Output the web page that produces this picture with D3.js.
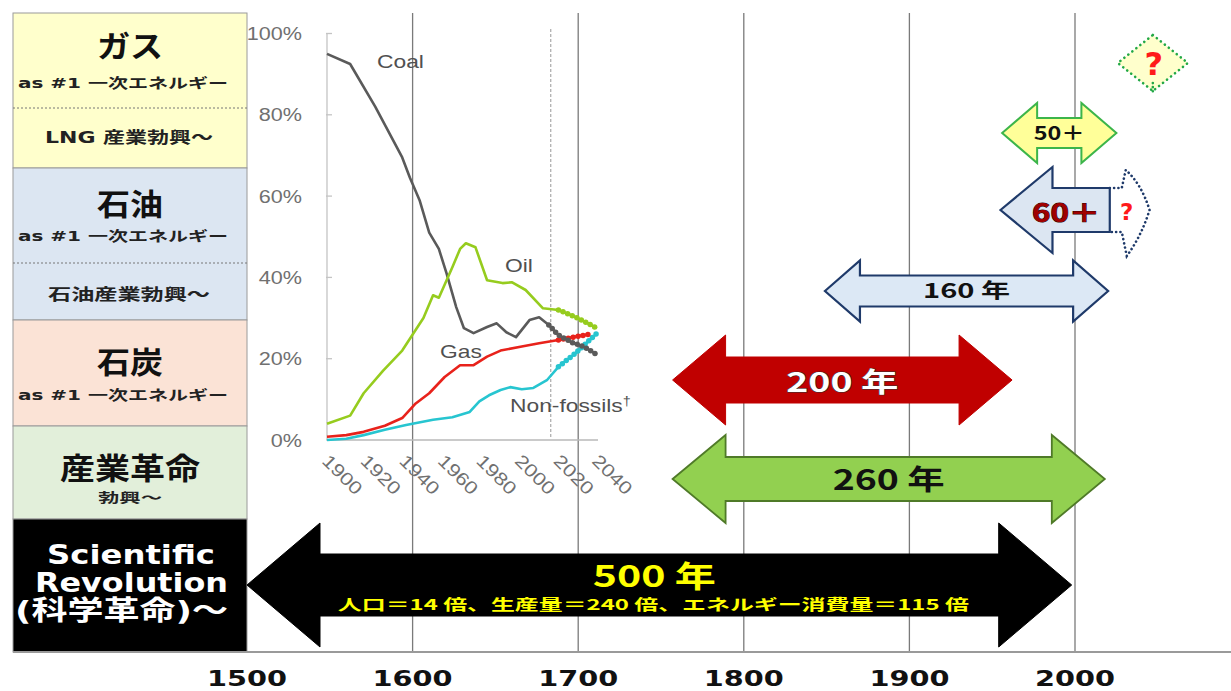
<!DOCTYPE html>
<html>
<head>
<meta charset="utf-8">
<script src="https://cdn.jsdelivr.net/npm/d3@7"></script>
<style>
  body { margin: 0; background: #fff; }
  svg { display: block; }
</style>
</head>
<body>
<svg id="chart" width="1231" height="691"></svg>
<script>
// =========================
// DADES
// =========================

const timelineYears = [1500, 1600, 1700, 1800, 1900, 2000];

// left panel: energy eras
const eraTitles = ["ガス", "石油", "石炭", "産業革命"];
const eraSubs = ["as #1 一次エネルギー", "as #1 一次エネルギー", "as #1 一次エネルギー", "勃興～"];
const eraNotes = ["LNG 産業勃興～", "石油産業勃興～"];
const sciLines = ["Scientific", "Revolution", "(科学革命)～"];

// spans on the timeline (years)
const spanLabels = ["500 年", "260 年", "200 年", "160 年", "50＋", "60＋"];
const spanStart = [1500, 1757, 1757, 1849, 1956, 1955];
const spanEnd = [1998, 2018, 1962, 2020, 2025, 2021];
const spanSub = "人口＝14 倍、生産量＝240 倍、エネルギー消費量＝115 倍";
const unknownYear = 2047;      // "?" diamond
const unknownExtEnd = 2045;    // dotted continuation of 60+

// inset: share of primary energy (%)
const insetTicksY = [0, 20, 40, 60, 80, 100];
const insetTicksX = [1900, 1920, 1940, 1960, 1980, 2000, 2020, 2040];
const outlookStart = 2016;

const coalShare = [[1900,95],[1912,92.5],[1925,82],[1939,69.5],[1943,64.5],[1948,59],[1953,51],[1958,47],
  [1962,41],[1967,32.7],[1971,27.5],[1976,26.3],[1983,27.8],[1988,28.7],[1993,26.5],[1998,25.3],
  [2005,29.5],[2010,30.2],[2015,28.3],[2020,25.8],[2027,24],[2033,23],[2040,21]];
const oilShare = [[1900,4],[1912,6],[1919,11.5],[1929,17],[1939,22],[1950,30],[1955,35.6],[1958,35],
  [1965,42.5],[1969,47],[1972,48.4],[1977,47.4],[1983,39.3],[1991,38.6],[1996,38.8],[2003,36.9],
  [2012,32.4],[2020,32],[2030,30],[2040,27.5]];
const gasShare = [[1900,0.8],[1910,1.2],[1919,2],[1930,3.5],[1939,5.4],[1946,9],[1953,11.5],[1961,15.5],
  [1969,18.4],[1976,18.4],[1983,20.5],[1990,22],[2001,23],[2010,23.8],[2020,24.6],[2030,25.5],[2036,26]];
const nonFossilShare = [[1900,0],[1910,0.3],[1919,1.2],[1930,2.5],[1941,3.7],[1955,5],[1965,5.6],
  [1974,6.9],[1979,9.5],[1984,11],[1990,12.3],[1995,13],[2001,12.5],[2007,12.8],[2014,14.7],
  [2020,18],[2029,21.4],[2040,26.3]];

const seriesNames = ["Coal", "Oil", "Gas", "Non-fossils†"];
const seriesData = [coalShare, oilShare, gasShare, nonFossilShare];


// =========================
// ESCALES
// =========================

const svg = d3.select("#chart");
const JP = "'Noto Sans CJK JP', sans-serif";
const VERD = "'DejaVu Sans', 'Noto Sans CJK JP', sans-serif";
const ARIAL = "'Liberation Sans', Arial, sans-serif";

const x = d3.scaleLinear().domain([1500, 2000]).range([247, 1075]);
const gridTop = 13, gridBottom = 652;

const ix = d3.scaleLinear().domain([1900, 2040]).range([327, 597]);
const iy = d3.scaleLinear().domain([0, 100]).range([440, 33.5]);

function stretch(sel, k) {
  sel.each(function () {
    const L = this.getComputedTextLength();
    d3.select(this).attr("textLength", L * k).attr("lengthAdjust", "spacingAndGlyphs");
  });
}
function fit(sel, w) {
  sel.attr("textLength", w).attr("lengthAdjust", "spacingAndGlyphs");
}


// =========================
// PANELL ESQUERRE
// =========================

function drawPanel() {
  const g = svg.append("g");
  const px0 = 13, px1 = 247;
  const rows = [
    { y0: 13, y1: 168, fill: "#ffffcc" },
    { y0: 168, y1: 320, fill: "#dce6f2" },
    { y0: 320, y1: 426, fill: "#fbe3d6" },
    { y0: 426, y1: 519, fill: "#e2efda" },
    { y0: 519, y1: 652, fill: "#000000" }
  ];
  g.selectAll("rect.row").data(rows).enter().append("rect")
    .attr("x", px0).attr("y", d => d.y0)
    .attr("width", px1 - px0).attr("height", d => d.y1 - d.y0)
    .attr("fill", d => d.fill)
    .attr("stroke", "#9a9a9a").attr("stroke-width", 1);

  // dotted separators
  g.selectAll("line.sep").data([108, 263]).enter().append("line")
    .attr("x1", px0).attr("x2", px1).attr("y1", d => d).attr("y2", d => d)
    .attr("stroke", "#777").attr("stroke-width", 1).attr("stroke-dasharray", "2,2");

  const titleY = [57, 215, 373, 479];
  const titleW = [66, 66, 66, 140];
  const subY = [88, 241, 400, 502];
  const subW = [210, 210, 210, 64];
  const subSize = [14, 14, 14, 13];

  eraTitles.forEach((t, i) => {
    g.append("text").attr("x", 130).attr("y", titleY[i]).attr("text-anchor", "middle")
      .style("font-family", JP).style("font-weight", 700).style("font-size", "30px")
      .attr("fill", "#111").text(t).call(fit, titleW[i]);
    g.append("text").attr("x", i < 3 ? 123 : 130).attr("y", subY[i]).attr("text-anchor", "middle")
      .style("font-family", VERD).style("font-weight", 700).style("font-size", subSize[i] + "px")
      .attr("fill", "#222").text(eraSubs[i]).call(fit, subW[i]);
  });

  const noteY = [143, 300];
  const noteW = [168, 162];
  eraNotes.forEach((t, i) => {
    g.append("text").attr("x", 129).attr("y", noteY[i]).attr("text-anchor", "middle")
      .style("font-family", VERD).style("font-weight", 700).style("font-size", "16px")
      .attr("fill", "#222").text(t).call(fit, noteW[i]);
  });

  const sciY = [564, 592, 620];
  const sciX = [131, 131.5, 121.5];
  const sciW = [168, 193, 213];
  sciLines.forEach((t, i) => {
    g.append("text").attr("x", sciX[i]).attr("y", sciY[i]).attr("text-anchor", "middle")
      .style("font-family", VERD).style("font-weight", 700).style("font-size", "27px")
      .attr("fill", "#fff").text(t).call(fit, sciW[i]);
  });
}


// =========================
// GRAELLA I EIX
// =========================

function drawGrid() {
  svg.append("g").selectAll("line").data(timelineYears.slice(1)).enter().append("line")
    .attr("x1", d => x(d)).attr("x2", d => x(d))
    .attr("y1", gridTop).attr("y2", gridBottom)
    .attr("stroke", "#7a7a7a").attr("stroke-width", 1.3);

  svg.append("line").attr("x1", 13).attr("x2", 1231).attr("y1", gridBottom).attr("y2", gridBottom)
    .attr("stroke", "#9a9a9a").attr("stroke-width", 2);

  svg.append("g").selectAll("text").data(timelineYears).enter().append("text")
    .attr("x", d => x(d)).attr("y", 686).attr("text-anchor", "middle")
    .style("font-family", VERD).style("font-weight", 700).style("font-size", "22px")
    .attr("fill", "#111").text(d => d).call(fit, 80);
}


// =========================
// GRÀFIC INSERIT
// =========================

function drawInset() {
  const g = svg.append("g");
  const colors = ["#5a5a5a", "#96cc1e", "#e8221b", "#27c5d0"];

  // axes
  g.append("line").attr("x1", ix(1900)).attr("x2", ix(1900)).attr("y1", iy(100)).attr("y2", iy(0))
    .attr("stroke", "#c4c4c4").attr("stroke-width", 1.3);
  g.selectAll("line.ytick").data(insetTicksY).enter().append("line")
    .attr("x1", ix(1900) - 1).attr("x2", ix(1900) + 5).attr("y1", d => iy(d)).attr("y2", d => iy(d))
    .attr("stroke", "#c4c4c4").attr("stroke-width", 1.3);
  g.append("line").attr("x1", ix(1900)).attr("x2", ix(2040) + 1).attr("y1", iy(0)).attr("y2", iy(0))
    .attr("stroke", "#b8b8b8").attr("stroke-width", 1.3);

  g.selectAll("text.ylab").data(insetTicksY).enter().append("text")
    .attr("x", 302).attr("y", d => iy(d) + 6.5).attr("text-anchor", "end")
    .style("font-family", ARIAL).style("font-size", "18px").attr("fill", "#707070")
    .text(d => d + "%").call(stretch, 1.2);

  g.selectAll("text.xlab").data(insetTicksX).enter().append("text")
    .attr("transform", d => `translate(${ix(d) - 6},${462}) rotate(45)`)
    .style("font-family", ARIAL).style("font-size", "18px").attr("fill", "#707070")
    .text(d => d).call(stretch, 1.2);

  // outlook marker
  g.append("line").attr("x1", ix(outlookStart)).attr("x2", ix(outlookStart))
    .attr("y1", 29).attr("y2", iy(0) - 2)
    .attr("stroke", "#b0b0b0").attr("stroke-width", 1.3).attr("stroke-dasharray", "3,2");

  const line = d3.line().x(d => ix(d[0])).y(d => iy(d[1])).curve(d3.curveLinear);

  // order: non-fossils, gas, coal, oil
  [3, 2, 0, 1].forEach(i => {
    g.append("path").attr("d", line(seriesData[i]))
      .attr("fill", "none").attr("stroke", colors[i]).attr("stroke-width", 2.6)
      .attr("stroke-linejoin", "round");
  });
  [3, 2, 0, 1].forEach(i => {
    const proj = seriesData[i].filter(d => d[0] >= outlookStart - 1);
    g.append("path").attr("d", line(proj))
      .attr("fill", "none").attr("stroke", colors[i]).attr("stroke-width", 5.5)
      .attr("stroke-linecap", "round").attr("stroke-dasharray", "0,5");
  });

  const labelPos = [[377, 68], [505, 272], [440, 358], [510, 412]];
  seriesNames.forEach((n, i) => {
    const t = g.append("text").attr("x", labelPos[i][0]).attr("y", labelPos[i][1])
      .style("font-family", ARIAL).style("font-size", "19px").attr("fill", "#505050");
    if (n.endsWith("†")) {
      t.append("tspan").text(n.slice(0, -1));
      t.append("tspan").attr("dy", -7).style("font-size", "12px").text("†");
    } else {
      t.text(n);
    }
    t.call(stretch, 1.2);
  });
}


// =========================
// FLETXES
// =========================

function dblArrow(x0, x1, cy, sh, hh, hl) {
  return `M${x0},${cy} L${x0 + hl},${cy - hh} L${x0 + hl},${cy - sh} L${x1 - hl},${cy - sh}` +
    ` L${x1 - hl},${cy - hh} L${x1},${cy} L${x1 - hl},${cy + hh} L${x1 - hl},${cy + sh}` +
    ` L${x0 + hl},${cy + sh} L${x0 + hl},${cy + hh} Z`;
}
function leftArrow(x0, x1, cy, sh, hh, hl) {
  return `M${x0},${cy} L${x0 + hl},${cy - hh} L${x0 + hl},${cy - sh} L${x1},${cy - sh}` +
    ` L${x1},${cy + sh} L${x0 + hl},${cy + sh} L${x0 + hl},${cy + hh} Z`;
}

function drawArrows() {
  const g = svg.append("g");
  const style = [
    { cy: 585, sh: 31, hh: 62, hl: 73, fill: "#000", stroke: "#000", sw: 1 },
    { cy: 479, sh: 22, hh: 44, hl: 53, fill: "#92d050", stroke: "#4f7a28", sw: 1.8 },
    { cy: 380, sh: 23, hh: 45, hl: 53, fill: "#c00000", stroke: "#c00000", sw: 1 },
    { cy: 291, sh: 15.5, hh: 30.5, hl: 35, fill: "#dce8f5", stroke: "#1f3a6a", sw: 2.2 },
    { cy: 133, sh: 15, hh: 30, hl: 35, fill: "#ffff99", stroke: "#3cb54a", sw: 2 },
    { cy: 210, sh: 22, hh: 43, hl: 52, fill: "#dce6f2", stroke: "#1f3a6a", sw: 2.2 }
  ];

  spanLabels.forEach((lab, i) => {
    const s = style[i];
    const x0 = x(spanStart[i]), x1 = x(spanEnd[i]);
    g.append("path")
      .attr("d", i === 5 ? leftArrow(x0, x1, s.cy, s.sh, s.hh, s.hl) : dblArrow(x0, x1, s.cy, s.sh, s.hh, s.hl))
      .attr("fill", s.fill).attr("stroke", s.stroke).attr("stroke-width", s.sw)
      .attr("stroke-linejoin", "miter");
  });

  // dotted continuation of 60+
  const xe = x(spanEnd[5]), xt = x(unknownExtEnd);
  g.append("path")
    .attr("d", `M${xe},188 L${xe + 12},188 L${xe + 16},170 Q${xt - 8},184 ${xt},210 Q${xt - 8},236 ${xe + 17},256 L${xe + 12},232 L${xe},232`)
    .attr("fill", "none").attr("stroke", "#1f3a6a").attr("stroke-width", 2.6)
    .attr("stroke-linecap", "round").attr("stroke-dasharray", "0.1,4.2");
  g.append("text").attr("x", xe + 17).attr("y", 220).attr("text-anchor", "middle")
    .style("font-family", VERD).style("font-weight", 700).style("font-size", "23px")
    .attr("fill", "#ff1a1a").text("?");

  // "?" diamond
  const dx = x(unknownYear), dy = 63;
  g.append("path")
    .attr("d", `M${dx},${dy - 28} L${dx + 35},${dy} L${dx},${dy + 28} L${dx - 35},${dy} Z`)
    .attr("fill", "#ffffcc").attr("stroke", "#22a846").attr("stroke-width", 2.6)
    .attr("stroke-linecap", "round").attr("stroke-dasharray", "0.1,5");
  g.append("line").attr("x1", dx).attr("x2", dx).attr("y1", dy + 20).attr("y2", dy + 30)
    .attr("stroke", "#22a846").attr("stroke-width", 2.6).attr("stroke-linecap", "round")
    .attr("stroke-dasharray", "0.1,4");
  g.append("text").attr("x", dx + 1).attr("y", dy + 12).attr("text-anchor", "middle")
    .style("font-family", VERD).style("font-weight", 700).style("font-size", "32px")
    .attr("fill", "#ff1a1a").text("?");

  // labels
  const mid = i => (x(spanStart[i]) + x(spanEnd[i])) / 2;
  const lab = [
    { x: mid(0) - 5, y: 587, size: 30, w: 123, fill: "#ffff00", stroke: "none" },
    { x: mid(1), y: 490, size: 28, w: 112, fill: "#111", stroke: "none" },
    { x: mid(2), y: 392, size: 27, w: 112, fill: "#fff", stroke: "#333" },
    { x: mid(3), y: 298, size: 20, w: 87, fill: "#111", stroke: "none" },
    { x: mid(4), y: 140, size: 19, w: 51, fill: "#111", stroke: "none" },
    { x: 1066, y: 222, size: 25, w: 68, fill: "#a00000", stroke: "#2a0000" }
  ];
  spanLabels.forEach((t, i) => {
    const l = lab[i];
    g.append("text").attr("x", l.x).attr("y", l.y).attr("text-anchor", "middle")
      .style("font-family", JP).style("font-weight", 700).style("font-size", l.size + "px")
      .attr("fill", l.fill).attr("stroke", l.stroke).attr("stroke-width", l.stroke === "none" ? 0 : 1)
      .style("paint-order", "stroke")
      .text(t).call(fit, l.w);
  });

  g.append("text").attr("x", mid(0) - 6).attr("y", 610).attr("text-anchor", "middle")
    .style("font-family", JP).style("font-weight", 700).style("font-size", "15px")
    .attr("fill", "#ffff00").text(spanSub).call(fit, 631);
}


// =========================
// PRINCIPAL
// =========================

drawPanel();
drawGrid();
drawInset();
drawArrows();
</script>
</body>
</html>
